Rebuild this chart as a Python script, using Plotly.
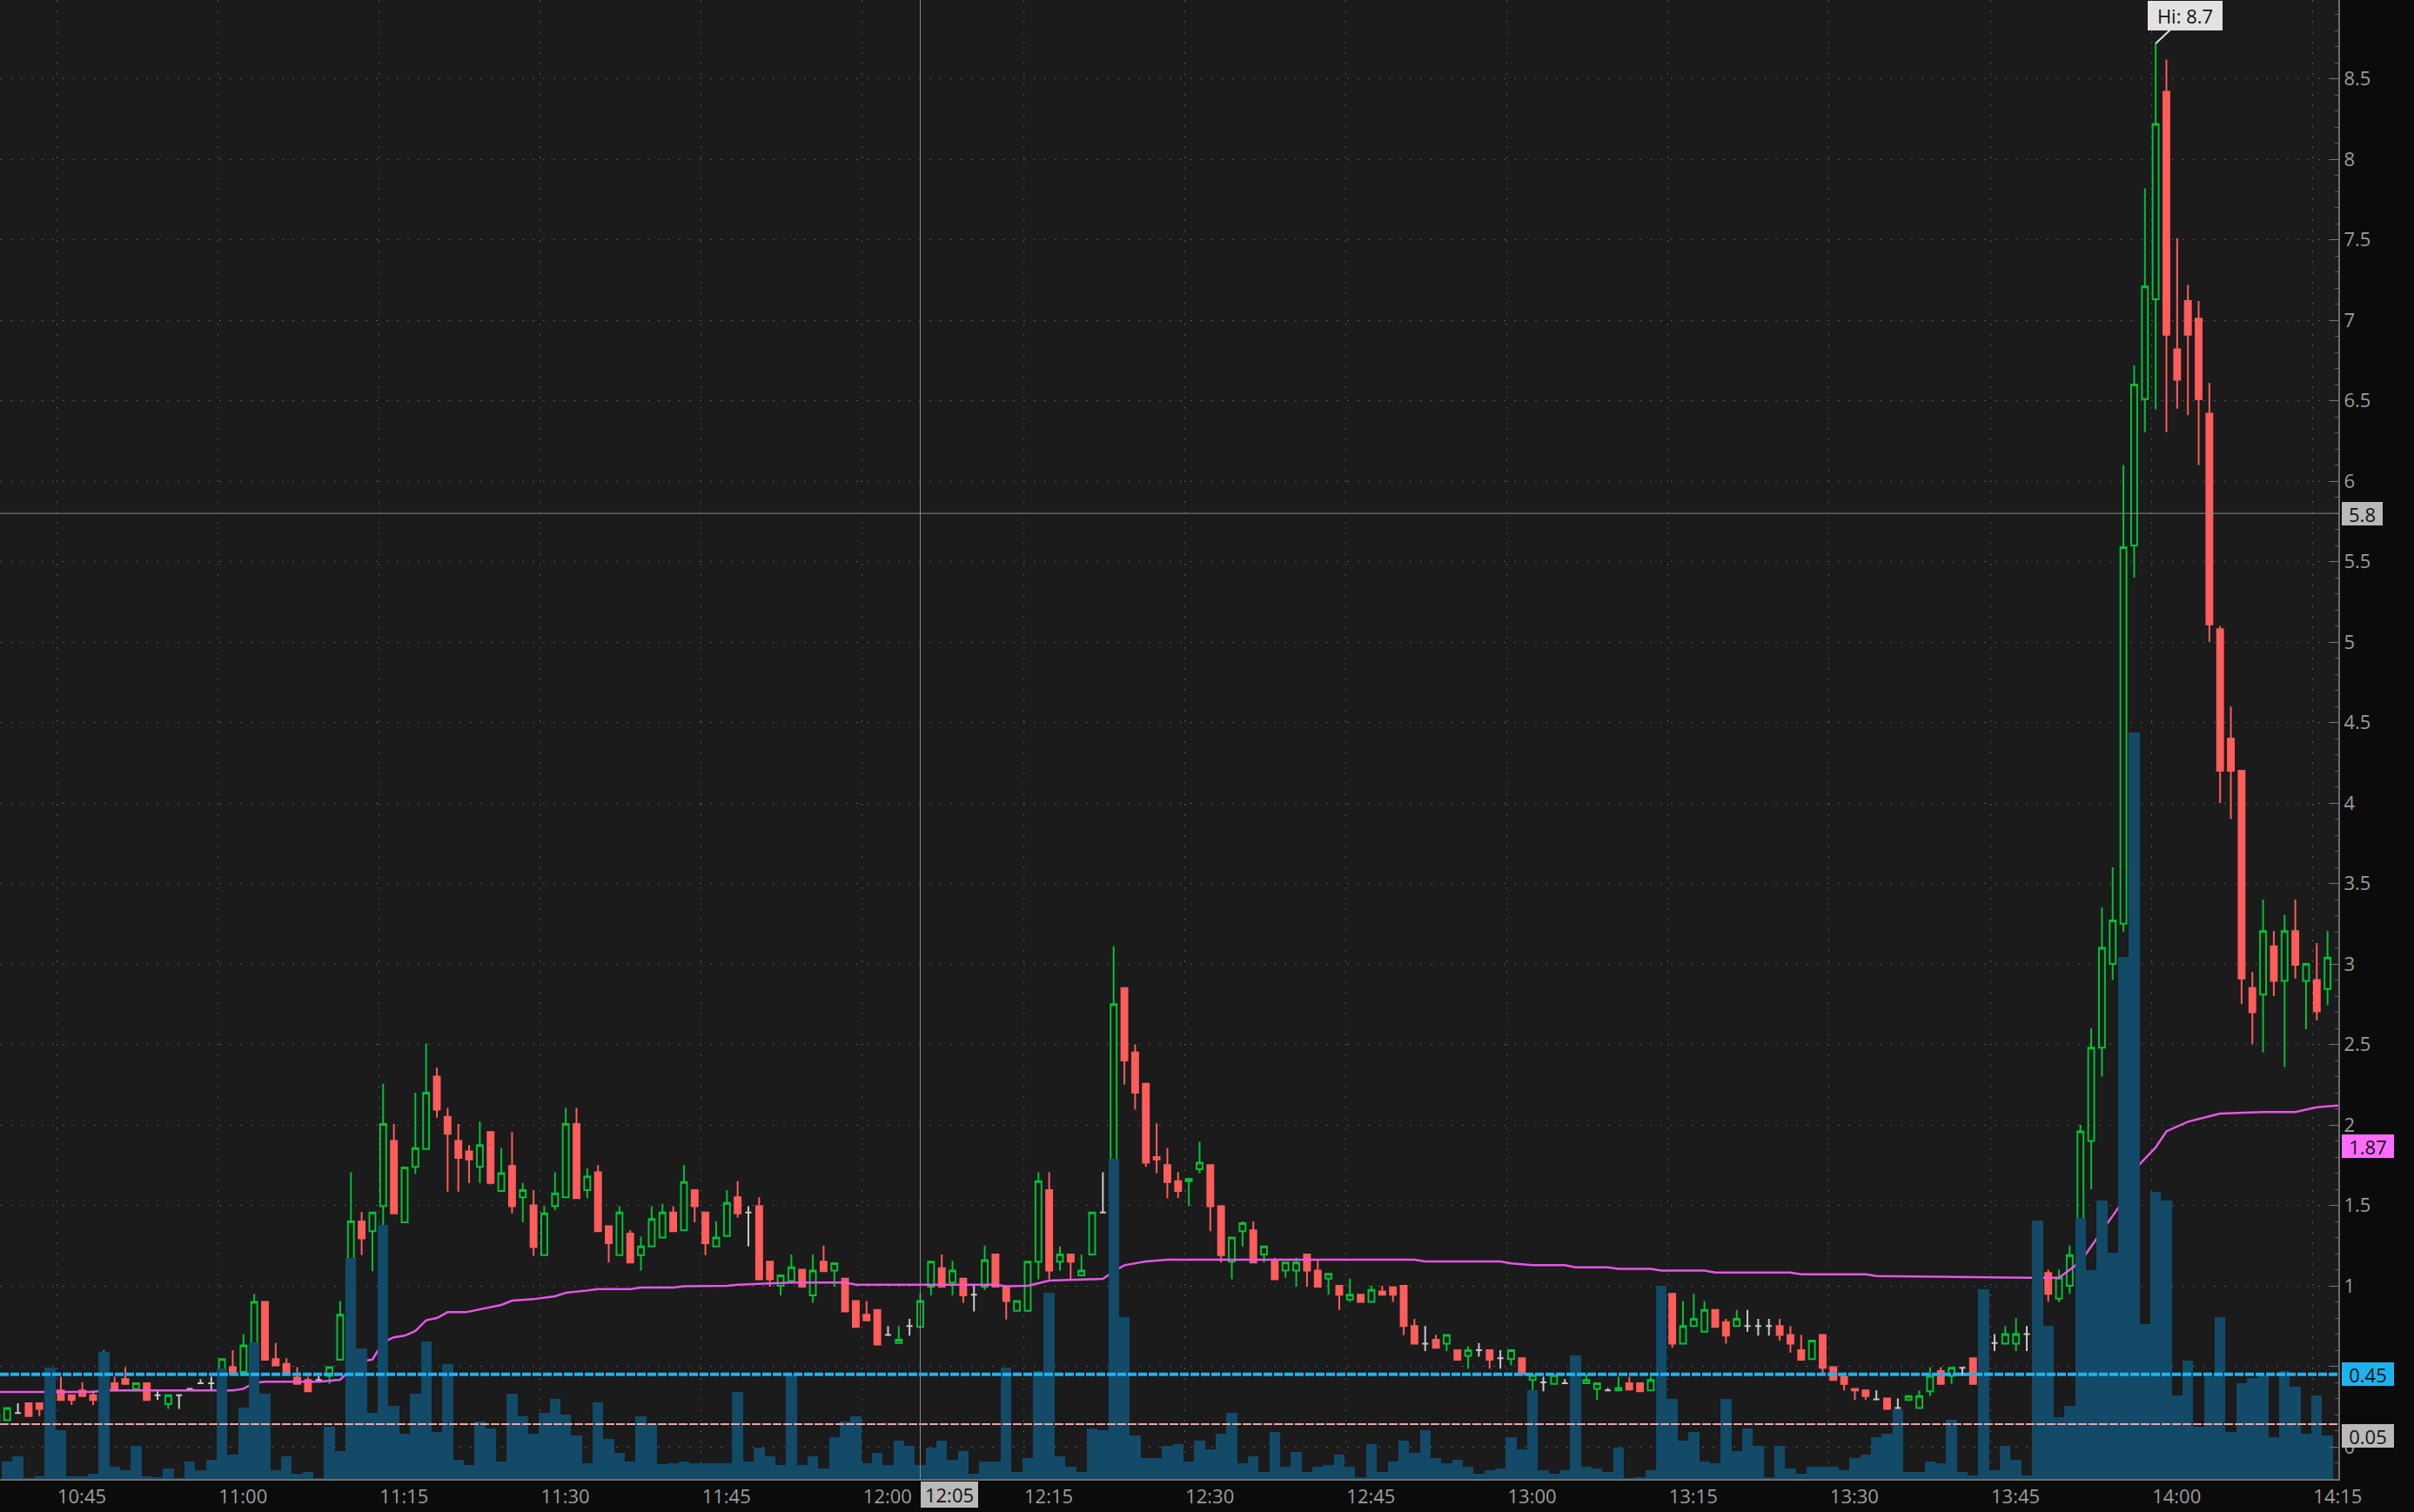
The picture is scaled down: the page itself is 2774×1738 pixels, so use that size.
import pandas as pd
import plotly.graph_objects as go

# ---------------- data (1-minute bars, first bar 10:39) ----------------
FIRST_BAR = "2024-01-01 10:39"

OPENS = [
    0.16, 0.165, 0.21, 0.27, 0.27, 0.29, 0.35, 0.32, 0.35, 0.32,
    0.315, 0.395, 0.42, 0.36, 0.395, 0.32, 0.265, 0.32, 0.36, 0.395,
    0.395, 0.41, 0.495, 0.465, 0.64, 0.90, 0.545, 0.515, 0.43, 0.415,
    0.415, 0.44, 0.54, 0.815, 1.40, 1.34, 1.495, 1.90, 1.395, 1.74,
    1.85, 2.30, 2.05, 1.90, 1.835, 1.74, 1.955, 1.59, 1.745, 1.55,
    1.50, 1.19, 1.495, 1.55, 2.005, 1.595, 1.705, 1.37, 1.19, 1.325,
    1.19, 1.245, 1.30, 1.455, 1.345, 1.595, 1.455, 1.245, 1.31, 1.55,
    1.455, 1.495, 1.15, 1.00, 1.03, 1.10, 0.94, 1.15, 1.095, 1.045,
    0.905, 0.82, 0.85, 0.695, 0.645, 0.75, 0.745, 0.995, 1.11, 1.02,
    1.045, 0.945, 0.995, 1.195, 0.995, 0.845, 0.845, 1.15, 1.595, 1.15,
    1.195, 1.065, 1.195, 1.455, 1.495, 2.85, 2.45, 2.255, 1.80, 1.75,
    1.65, 1.65, 1.725, 1.75, 1.495, 1.15, 1.34, 1.345, 1.195, 1.16,
    1.095, 1.095, 1.195, 1.095, 1.045, 1.00, 0.915, 0.945, 0.90, 0.965,
    0.99, 1.00, 0.75, 0.64, 0.665, 0.64, 0.60, 0.565, 0.60, 0.60,
    0.55, 0.545, 0.55, 0.415, 0.40, 0.39, 0.395, 0.395, 0.395, 0.36,
    0.35, 0.35, 0.395, 0.395, 0.35, 0.435, 0.95, 0.64, 0.75, 0.715,
    0.85, 0.775, 0.75, 0.75, 0.75, 0.75, 0.75, 0.695, 0.60, 0.545,
    0.695, 0.495, 0.435, 0.36, 0.35, 0.295, 0.30, 0.24, 0.29, 0.24,
    0.345, 0.47, 0.44, 0.49, 0.55, 0.49, 0.645, 0.64, 0.64, 0.70,
    0.715, 1.08, 0.92, 1.00, 1.19, 1.90, 2.48, 3.00, 3.25, 5.60,
    6.51, 7.13, 8.42, 6.82, 7.12, 7.01, 6.42, 5.08, 4.40, 4.20,
    2.85, 2.81, 3.11, 2.895, 3.205, 2.895, 2.90, 2.845,
]
HIGHS = [
    0.20, 0.245, 0.27, 0.27, 0.27, 0.395, 0.435, 0.32, 0.40, 0.35,
    0.60, 0.435, 0.495, 0.395, 0.395, 0.35, 0.32, 0.32, 0.365, 0.42,
    0.435, 0.545, 0.60, 0.70, 0.95, 0.90, 0.645, 0.55, 0.495, 0.435,
    0.44, 0.495, 0.905, 1.705, 1.46, 1.455, 2.255, 2.005, 1.735, 2.20,
    2.505, 2.355, 2.105, 2.005, 1.875, 2.02, 1.955, 1.855, 1.955, 1.64,
    1.595, 1.495, 1.705, 2.105, 2.105, 1.73, 1.75, 1.37, 1.495, 1.345,
    1.305, 1.495, 1.51, 1.495, 1.75, 1.595, 1.455, 1.40, 1.595, 1.65,
    1.495, 1.55, 1.15, 1.065, 1.195, 1.10, 1.195, 1.25, 1.14, 1.045,
    0.905, 0.905, 0.85, 0.75, 0.75, 0.795, 0.95, 1.15, 1.195, 1.155,
    1.045, 1.00, 1.25, 1.195, 0.995, 0.905, 1.15, 1.705, 1.705, 1.245,
    1.195, 1.195, 1.455, 1.705, 3.11, 2.85, 2.50, 2.255, 2.01, 1.855,
    1.705, 1.665, 1.895, 1.75, 1.495, 1.30, 1.40, 1.40, 1.245, 1.175,
    1.15, 1.175, 1.195, 1.16, 1.075, 1.00, 1.045, 0.945, 1.00, 1.00,
    0.99, 1.00, 0.795, 0.75, 0.695, 0.695, 0.60, 0.625, 0.645, 0.60,
    0.60, 0.60, 0.55, 0.45, 0.435, 0.445, 0.42, 0.45, 0.45, 0.395,
    0.365, 0.435, 0.435, 0.395, 0.435, 1.00, 0.95, 0.905, 0.95, 0.905,
    0.85, 0.795, 0.85, 0.85, 0.795, 0.795, 0.795, 0.75, 0.695, 0.66,
    0.695, 0.495, 0.435, 0.36, 0.35, 0.35, 0.30, 0.30, 0.315, 0.35,
    0.495, 0.495, 0.49, 0.49, 0.55, 0.775, 0.70, 0.75, 0.80, 0.75,
    1.00, 1.10, 1.10, 1.25, 2.00, 2.60, 3.35, 3.60, 6.10, 6.72,
    7.82, 8.72, 8.62, 7.51, 7.22, 7.12, 6.61, 5.10, 4.60, 4.20,
    2.95, 3.40, 3.205, 3.305, 3.40, 3.00, 3.13, 3.205,
]
LOWS = [
    0.15, 0.16, 0.21, 0.19, 0.19, 0.26, 0.29, 0.26, 0.31, 0.26,
    0.31, 0.35, 0.39, 0.36, 0.29, 0.29, 0.235, 0.235, 0.36, 0.395,
    0.35, 0.41, 0.45, 0.46, 0.59, 0.54, 0.505, 0.45, 0.39, 0.345,
    0.415, 0.39, 0.54, 0.79, 1.19, 1.09, 1.24, 1.45, 1.395, 1.695,
    1.85, 2.045, 1.585, 1.585, 1.64, 1.64, 1.63, 1.59, 1.45, 1.395,
    1.185, 1.19, 1.47, 1.55, 1.545, 1.545, 1.34, 1.145, 1.19, 1.145,
    1.095, 1.245, 1.30, 1.34, 1.345, 1.395, 1.19, 1.245, 1.31, 1.425,
    1.245, 1.04, 0.995, 0.94, 1.03, 0.995, 0.895, 1.09, 0.995, 0.84,
    0.745, 0.785, 0.635, 0.695, 0.64, 0.69, 0.745, 0.94, 0.995, 0.94,
    0.895, 0.84, 0.975, 0.995, 0.79, 0.845, 0.845, 1.04, 1.04, 1.095,
    1.035, 1.065, 1.195, 1.455, 1.45, 2.25, 2.095, 1.74, 1.70, 1.545,
    1.545, 1.495, 1.70, 1.34, 1.145, 1.04, 1.245, 1.145, 1.145, 1.04,
    1.05, 0.995, 0.995, 0.995, 0.945, 0.85, 0.90, 0.90, 0.90, 0.945,
    0.90, 0.695, 0.64, 0.595, 0.615, 0.595, 0.54, 0.485, 0.56, 0.485,
    0.485, 0.505, 0.45, 0.35, 0.345, 0.39, 0.395, 0.395, 0.395, 0.29,
    0.35, 0.35, 0.355, 0.345, 0.35, 0.41, 0.615, 0.64, 0.75, 0.715,
    0.745, 0.64, 0.75, 0.715, 0.69, 0.69, 0.66, 0.585, 0.54, 0.545,
    0.45, 0.415, 0.35, 0.29, 0.29, 0.295, 0.235, 0.24, 0.29, 0.24,
    0.315, 0.39, 0.39, 0.44, 0.39, 0.49, 0.595, 0.64, 0.595, 0.595,
    0.70, 0.90, 0.90, 0.95, 1.15, 1.60, 2.30, 2.90, 3.20, 5.40,
    6.305, 6.445, 6.305, 6.45, 6.41, 6.10, 5.00, 4.00, 3.90, 2.75,
    2.50, 2.45, 2.80, 2.36, 2.91, 2.595, 2.65, 2.745,
]
CLOSES = [
    0.20, 0.24, 0.21, 0.19, 0.235, 0.32, 0.29, 0.29, 0.315, 0.29,
    0.395, 0.35, 0.39, 0.395, 0.29, 0.32, 0.32, 0.32, 0.36, 0.395,
    0.395, 0.545, 0.45, 0.63, 0.90, 0.54, 0.505, 0.45, 0.39, 0.345,
    0.415, 0.495, 0.82, 1.40, 1.295, 1.455, 2.005, 1.45, 1.735, 1.855,
    2.20, 2.095, 1.945, 1.795, 1.785, 1.875, 1.64, 1.70, 1.495, 1.595,
    1.24, 1.45, 1.575, 2.005, 1.545, 1.68, 1.34, 1.265, 1.455, 1.145,
    1.245, 1.415, 1.455, 1.34, 1.645, 1.495, 1.265, 1.30, 1.515, 1.45,
    1.455, 1.04, 1.04, 1.065, 1.115, 0.995, 1.095, 1.09, 1.14, 0.84,
    0.745, 0.785, 0.635, 0.695, 0.665, 0.75, 0.905, 1.15, 0.995, 1.095,
    0.94, 0.945, 1.16, 0.995, 0.905, 0.905, 1.15, 1.65, 1.095, 1.195,
    1.15, 1.095, 1.455, 1.455, 2.75, 2.40, 2.20, 1.765, 1.785, 1.645,
    1.59, 1.665, 1.765, 1.495, 1.19, 1.30, 1.39, 1.145, 1.245, 1.04,
    1.145, 1.145, 1.095, 0.995, 1.075, 0.945, 0.945, 0.90, 0.975, 0.945,
    0.945, 0.75, 0.64, 0.64, 0.615, 0.695, 0.54, 0.60, 0.60, 0.54,
    0.55, 0.60, 0.45, 0.445, 0.40, 0.445, 0.395, 0.395, 0.415, 0.395,
    0.35, 0.365, 0.355, 0.345, 0.415, 0.945, 0.64, 0.75, 0.795, 0.85,
    0.745, 0.69, 0.795, 0.75, 0.75, 0.75, 0.695, 0.64, 0.54, 0.66,
    0.49, 0.415, 0.39, 0.35, 0.315, 0.295, 0.235, 0.24, 0.315, 0.315,
    0.44, 0.39, 0.49, 0.49, 0.39, 0.645, 0.645, 0.70, 0.70, 0.70,
    0.95, 0.95, 1.05, 1.19, 1.96, 2.48, 3.10, 3.27, 5.59, 6.60,
    7.21, 8.22, 6.91, 6.63, 6.91, 6.51, 5.11, 4.20, 4.20, 2.91,
    2.70, 3.205, 2.895, 3.205, 2.995, 3.00, 2.705, 3.04,
]
VOLUMES_K = [
    0, 20, 26, 1, 3, 128, 56, 3, 3, 6,
    146, 14, 10, 38, 3, 2, 12, 1, 20, 10,
    22, 127, 28, 82, 157, 98, 10, 26, 6, 8,
    1, 60, 32, 254, 150, 76, 292, 84, 52, 98,
    158, 54, 132, 22, 16, 66, 58, 20, 98, 72,
    52, 76, 92, 74, 50, 18, 88, 46, 30, 20,
    72, 63, 17, 18, 20, 18, 18, 18, 18, 100,
    20, 36, 26, 16, 120, 16, 26, 12, 48, 66,
    72, 18, 30, 16, 44, 38, 16, 36, 44, 22,
    32, 6, 20, 20, 128, 8, 24, 124, 214, 26,
    14, 8, 58, 56, 368, 186, 50, 24, 24, 38,
    40, 20, 44, 34, 52, 76, 18, 26, 8, 54,
    14, 31, 8, 14, 16, 28, 14, 2, 40, 8,
    20, 44, 30, 56, 24, 18, 22, 14, 6, 10,
    12, 48, 34, 102, 10, 6, 10, 142, 14, 12,
    8, 36, 1, 2, 10, 222, 92, 44, 54, 20,
    18, 92, 32, 58, 38, 2, 38, 12, 6, 14,
    14, 14, 10, 24, 28, 48, 52, 80, 8, 8,
    20, 18, 68, 8, 4, 218, 10, 38, 22, 4,
    297, 176, 71, 84, 300, 240, 320, 260, 600, 858,
    178, 330, 320, 96, 136, 60, 118, 186, 54, 110,
    116, 119, 48, 124, 106, 52, 96, 50,
]

# VWAP study readings: minutes after 10:45, value
VWAP_MIN = [-5.7, 3, 4, 16, 17, 18, 19, 24, 26, 26.5, 27, 28, 29, 30, 31, 32, 33, 34, 35, 36,
            37.7, 39.5, 41, 42, 44, 46, 47, 49, 50, 53, 54, 57, 58, 62, 63, 68, 73, 74,
            87, 88, 90, 91, 92, 97, 98, 99, 101, 103, 126, 127, 134, 135, 137, 140, 141,
            144, 145, 148, 149, 153, 154, 161, 162, 168, 169, 183, 186, 188, 190, 192,
            193, 195, 196, 198, 201, 205, 208, 210, 212]
VWAP_VAL = [0.34, 0.34, 0.35, 0.35, 0.36, 0.398, 0.404, 0.404, 0.416, 0.449, 0.494, 0.533, 0.542,
            0.65, 0.68, 0.69, 0.719, 0.786, 0.80, 0.836, 0.836, 0.86, 0.881, 0.908, 0.917, 0.935,
            0.957, 0.971, 0.98, 0.98, 0.989, 0.989, 0.998, 1.0, 1.007, 1.02, 1.02, 1.007, 1.007,
            0.998, 1.0, 1.016, 1.032, 1.043, 1.09, 1.128, 1.151, 1.162, 1.162, 1.151, 1.151,
            1.139, 1.128, 1.128, 1.115, 1.115, 1.106, 1.106, 1.095, 1.095, 1.083, 1.083, 1.072,
            1.072, 1.061, 1.05, 1.05, 1.15, 1.34, 1.53, 1.72, 1.86, 1.96, 2.02, 2.07, 2.08,
            2.08, 2.11, 2.12]

TIME_LABELS = ["10:45", "11:00", "11:15", "11:30", "11:45", "12:00", "12:15", "12:30",
               "12:45", "13:00", "13:15", "13:30", "13:45", "14:00", "14:15"]
PRICE_TICKS = [0, 0.5, 1, 1.5, 2, 2.5, 3, 3.5, 4, 4.5, 5, 5.5, 6, 6.5, 7, 7.5, 8, 8.5, 9]

HIGH_OF_DAY = 8.7
CROSS_TIME = "12:05"
CROSS_PRICE = 5.8
STUDY_LABEL = 1.87
CYAN_LEVEL = 0.45
PINK_LEVEL = 0.14
PINK_LABEL = "0.05"

# ---------------- build ----------------
DAY = FIRST_BAR.split(" ")[0]
times = pd.date_range(FIRST_BAR, periods=len(OPENS), freq="min")
df = pd.DataFrame(dict(t=times, o=OPENS, h=HIGHS, l=LOWS, c=CLOSES, v=VOLUMES_K))
up = df[df.c > df.o]
dn = df[df.c < df.o]
eq = df[df.c == df.o]

t0 = pd.Timestamp(f"{DAY} 10:45")
vwap_t = [t0 + pd.Timedelta(minutes=m) for m in VWAP_MIN]
tick_vals = [pd.Timestamp(f"{DAY} {s}") - pd.Timedelta(seconds=24) for s in TIME_LABELS]
# the 0.5 label sits under the 0.45 price tag in the original
tick_text = ["" if v == 0.5 else f"{v:g}" for v in PRICE_TICKS]

GREEN = "#00c234"
RED = "#ff5c5c"
GRAY = "#c8c8c8"
FONT = "Open Sans"

fig = go.Figure()
fig.add_trace(go.Bar(x=df.t, y=df.v, yaxis="y2", marker=dict(color="#124a68", line=dict(width=0)),
                     hoverinfo="skip", showlegend=False))
fig.add_trace(go.Candlestick(x=up.t, open=up.o, high=up.h, low=up.l, close=up.c,
                             increasing=dict(line=dict(color=GREEN, width=2), fillcolor="rgba(0,0,0,0)"),
                             decreasing=dict(line=dict(color=GREEN, width=2), fillcolor="rgba(0,0,0,0)"),
                             hoverinfo="skip", showlegend=False))
fig.add_trace(go.Candlestick(x=dn.t, open=dn.o, high=dn.h, low=dn.l, close=dn.c,
                             increasing=dict(line=dict(color=RED, width=2), fillcolor=RED),
                             decreasing=dict(line=dict(color=RED, width=2), fillcolor=RED),
                             hoverinfo="skip", showlegend=False))
fig.add_trace(go.Candlestick(x=eq.t, open=eq.o, high=eq.h, low=eq.l, close=eq.c,
                             increasing=dict(line=dict(color=GRAY, width=2), fillcolor=GRAY),
                             decreasing=dict(line=dict(color=GRAY, width=2), fillcolor=GRAY),
                             hoverinfo="skip", showlegend=False))
fig.add_trace(go.Scatter(x=vwap_t, y=VWAP_VAL, mode="lines",
                         line=dict(color="#e657e6", width=2.5), hoverinfo="skip", showlegend=False))

cross_t = pd.Timestamp(f"{DAY} {CROSS_TIME}")
shapes = [
    dict(type="line", xref="paper", x0=0, x1=1, yref="y", y0=PINK_LEVEL, y1=PINK_LEVEL,
         line=dict(color="#eaa6a6", width=2, dash="10px,2px")),
    dict(type="line", xref="paper", x0=0, x1=1, yref="y", y0=CYAN_LEVEL, y1=CYAN_LEVEL,
         line=dict(color="#1db2ee", width=4, dash="10px,2px")),
    dict(type="line", xref="paper", x0=0, x1=1, yref="y", y0=CROSS_PRICE, y1=CROSS_PRICE,
         line=dict(color="#8c8c8c", width=1)),
    dict(type="line", xref="x", x0=cross_t, x1=cross_t, yref="paper", y0=0, y1=1,
         line=dict(color="#8c8c8c", width=1)),
]


def price_tag(y, text, bg):
    return dict(xref="paper", x=1, xanchor="left", xshift=4, yref="y", y=y, yanchor="middle",
                text=text, showarrow=False, bgcolor=bg, bordercolor=bg, borderwidth=1, borderpad=1,
                width=13 * len(text) + 4, height=23,
                font=dict(family=FONT, size=22, color="#111111"))


hi_row = df.loc[df.h.idxmax()]
annotations = [
    price_tag(CROSS_PRICE, f"{CROSS_PRICE}", "#b9b9b9"),
    price_tag(STUDY_LABEL, f"{STUDY_LABEL}", "#ff6cff"),
    price_tag(CYAN_LEVEL, f"{CYAN_LEVEL}", "#1db2ee"),
    price_tag(0.07, PINK_LABEL, "#b9b9b9"),
    dict(xref="x", x=cross_t, xanchor="left", yref="paper", y=0, yanchor="top", yshift=-3,
         text=CROSS_TIME, showarrow=False, bgcolor="#b9b9b9", bordercolor="#b9b9b9", borderpad=1,
         width=62, height=26,
         font=dict(family=FONT, size=22, color="#111111")),
    dict(xref="x", x=hi_row.t, yref="y", y=hi_row.h, text=f"Hi: {HIGH_OF_DAY}",
         showarrow=True, arrowhead=0, arrowwidth=2, arrowcolor="#e2e2e2", ax=34, ay=-32,
         bgcolor="#e2e2e2", bordercolor="#e2e2e2", borderpad=2, width=80, height=28,
         font=dict(family=FONT, size=22, color="#111111")),
]

fig.update_layout(
    width=2774, height=1738,
    margin=dict(l=0, r=87, t=0, b=38, pad=0, autoexpand=False),
    paper_bgcolor="#0b0b0b", plot_bgcolor="#1b1b1b",
    boxgap=0.2, bargap=0,
    font=dict(family=FONT, color="#9c9c9c"),
    showlegend=False,
    shapes=shapes, annotations=annotations,
    xaxis=dict(
        type="date",
        range=[f"{DAY} 10:39:20", f"{DAY} 14:17:00"],
        rangeslider=dict(visible=False),
        tickvals=tick_vals, ticktext=TIME_LABELS,
        tickfont=dict(family=FONT, size=22, color="#9c9c9c"),
        ticklabelshift=29, ticks="",
        showgrid=True, gridcolor="#555555", gridwidth=1, griddash="2px,10px",
        showline=True, linecolor="#6e6e6e", linewidth=2,
        zeroline=False, fixedrange=True, automargin=False,
    ),
    yaxis=dict(
        side="right", range=[-0.2, 8.99],
        tickvals=PRICE_TICKS, ticktext=tick_text,
        tickfont=dict(family=FONT, size=22, color="#9c9c9c"),
        ticks="inside", ticklen=10, tickcolor="#777777", tickwidth=1,
        minor=dict(dtick=0.1, ticks="inside", ticklen=4, tickcolor="#5e5e5e", showgrid=False),
        showgrid=True, gridcolor="#555555", gridwidth=1, griddash="2px,10px",
        showline=True, linecolor="#6e6e6e", linewidth=2,
        zeroline=False, fixedrange=True, automargin=False,
    ),
    yaxis2=dict(overlaying="y", range=[0, 1700], visible=False, fixedrange=True),
)

fig.write_html(
    "out.html",
    config={"displayModeBar": False},
    post_script="document.body.style.margin='0';document.body.style.background='#0b0b0b';",
)
